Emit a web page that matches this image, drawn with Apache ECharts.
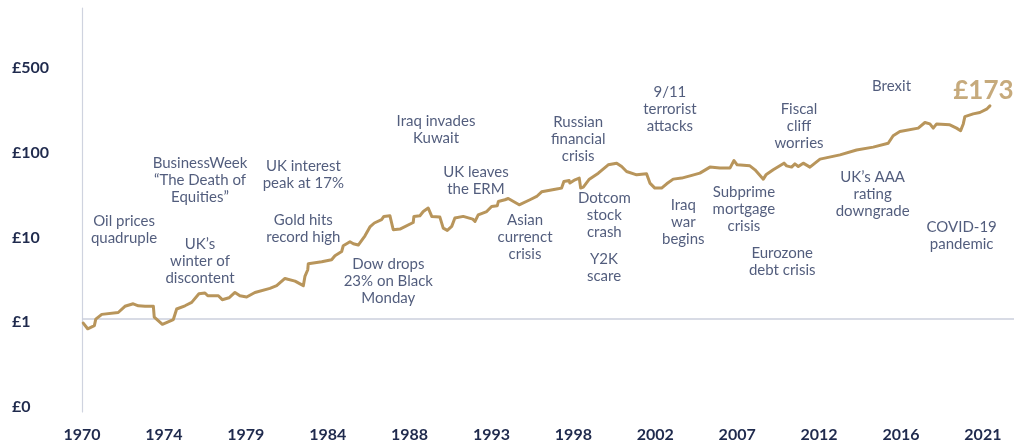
<!DOCTYPE html>
<html>
<head>
<meta charset="utf-8">
<script src="https://cdn.jsdelivr.net/npm/echarts@6/dist/echarts.min.js"></script>
<style>
  html, body { margin: 0; padding: 0; background: #ffffff; }
  #chart { width: 1029px; height: 448px; }
</style>
</head>
<body>
<div id="chart"></div>
<script>
// ---- Data ----
const xTickLabels = ['1970','1974','1979','1984','1988','1993','1998','2002','2007','2012','2016','2021'];
const yTickLabels = ['£0','£1','£10','£100','£500']; // shown at 0.1, 1, 10, 100, 1000 on the log axis

const years = [
  1970.07,1970.32,1970.70,1970.78,1971.12,1972.05,1972.43,1972.90,1973.19,1973.57,
  1974.04,1974.09,1974.55,1975.17,1975.36,1975.83,1976.21,1976.62,1976.96,1977.12,
  1977.72,1977.94,1978.32,1978.66,1978.94,1979.32,1979.79,1980.64,1981.02,1981.49,
  1982.06,1982.53,1982.62,1982.78,1982.81,1983.57,1984.13,1984.32,1984.70,1984.79,
  1985.17,1985.36,1985.64,1986.02,1986.30,1986.55,1986.96,1987.09,1987.43,1987.53,
  1987.62,1988.00,1988.75,1988.79,1989.13,1989.32,1989.60,1989.80,1990.26,1990.45,
  1990.68,1990.93,1991.11,1991.58,1992.12,1992.25,1992.43,1992.91,1993.19,1993.51,
  1993.57,1993.94,1994.13,1994.75,1995.36,1995.74,1996.02,1996.87,1997.15,1997.28,
  1997.58,1997.62,1997.91,1998.15,1998.23,1998.38,1998.72,1999.23,1999.79,2000.27,
  2000.55,2000.83,2001.40,2001.96,2002.15,2002.43,2002.81,2003.10,2003.47,2003.95,
  2004.42,2004.98,2005.55,2006.11,2006.68,2006.91,2007.09,2007.81,2008.10,2008.57,
  2008.72,2009.13,2009.74,2009.89,2010.17,2010.36,2010.55,2010.83,2011.21,2011.78,
  2012.91,2013.85,2014.79,2015.64,2015.92,2016.30,2017.34,2017.72,2018.00,2018.19,
  2018.38,2019.13,2019.51,2019.74,2019.89,2019.98,2020.45,2020.83,2021.21,2021.40
];
const values = [
  0.90,0.77,0.84,1.00,1.14,1.20,1.42,1.52,1.44,1.42,
  1.42,1.06,0.87,0.99,1.32,1.44,1.58,2.00,2.04,1.89,
  1.89,1.70,1.79,2.07,1.89,1.83,2.07,2.31,2.49,3.03,
  2.82,2.49,3.20,3.84,4.52,4.77,5.04,5.62,6.31,7.38,
  8.22,7.79,7.52,9.68,12.3,13.7,15.0,16.4,16.7,16.1,
  11.4,11.6,13.9,16.4,16.7,18.7,20.6,16.4,16.1,11.9,
  11.2,12.5,15.7,16.4,15.2,14.3,17.1,18.7,21.5,21.9,
  24.6,25.8,26.7,22.5,25.8,28.2,32.0,34.5,35.4,42.4,
  43.5,40.6,44.4,46.5,35.4,36.4,45.2,53.2,66.7,69.8,
  63.7,55.6,50.8,52.2,40.6,35.4,35.4,39.8,45.2,46.5,
  49.4,53.2,62.7,61.0,61.0,75.0,66.7,64.9,58.2,45.2,
  50.8,58.2,69.8,64.9,62.7,68.5,63.7,69.8,62.7,77.9,
  87.5,100,108,120,147,165,181,211,203,181,
  203,198,181,169,203,248,267,277,303,332
];

// Annotations: [year, value on the axis, text]
const annotationYears  = [1972.38,1976.68,1976.68,1982.53,1982.53,1987.34,1990.04,1992.30,1995.08,1998.09,1999.57,1999.55,2003.28,2004.04,2007.47,2009.64,2010.59,2014.76,2015.83,2019.80];
const annotationValues = [11.4,43.8,4.84,51.2,11.6,2.85,173,43.2,9.22,134,17.1,4.02,306,14.0,19.7,4.81,193,30.3,571,9.68];
const annotationTexts  = [
  'Oil prices\nquadruple',
  'BusinessWeek\n“The Death of\nEquities”',
  'UK’s\nwinter of\ndiscontent',
  'UK interest\npeak at 17%',
  'Gold hits\nrecord high',
  'Dow drops\n23% on Black\nMonday',
  'Iraq invades\nKuwait',
  'UK leaves\nthe ERM',
  'Asian\ncurrenct\ncrisis',
  'Russian\nfinancial\ncrisis',
  'Dotcom\nstock\ncrash',
  'Y2K\nscare',
  '9/11\nterrorist\nattacks',
  'Iraq\nwar\nbegins',
  'Subprime\nmortgage\ncrisis',
  'Eurozone\ndebt crisis',
  'Fiscal\ncliff\nworries',
  'UK’s AAA\nrating\ndowngrade',
  'Brexit',
  'COVID-19\npandemic'
];
const finalLabel = { year: 2021.03, value: 499, text: '£173' };

// ---- Build chart ----
const FIRST_YEAR = 1970, LAST_TICK_YEAR = 2021, TICK_COUNT = xTickLabels.length;
const toIdx = y => (y - FIRST_YEAR) * (TICK_COUNT - 1) / (LAST_TICK_YEAR - FIRST_YEAR);

const lineData = years.map((y, i) => [toIdx(y), values[i]]);
const annData = annotationTexts.map((t, i) => ({ value: [toIdx(annotationYears[i]), annotationValues[i]], name: t }));
annData.push({
  value: [toIdx(finalLabel.year), finalLabel.value],
  name: finalLabel.text,
  label: { fontSize: 26, fontWeight: 'bold', color: '#B8955B' }
});

const GOLD = '#B8955B';
const NAVY = '#1f2a4d';
const FONT = 'Lato, "Open Sans", sans-serif';

const chart = echarts.init(document.getElementById('chart'), null, { renderer: 'canvas' });
chart.setOption({
  animation: false,
  backgroundColor: '#ffffff',
  grid: { left: 82, right: 15, top: 8, bottom: 36, containLabel: false },
  xAxis: {
    type: 'value',
    min: 0,
    max: 11.38,
    interval: 1,
    axisLine: { show: false },
    axisTick: { show: false },
    splitLine: { show: false },
    axisLabel: {
      margin: 15,
      fontFamily: FONT,
      fontSize: 16,
      fontWeight: 'bold',
      color: NAVY,
      showMaxLabel: false,
      formatter: v => {
        const r = Math.round(v);
        return Math.abs(v - r) < 1e-6 && r >= 0 && r < xTickLabels.length ? xTickLabels[r] : '';
      }
    }
  },
  yAxis: {
    type: 'log',
    logBase: 10,
    min: 0.08,
    max: 4760,
    axisLine: { show: true, lineStyle: { color: '#cfd3df', width: 1.2 } },
    axisTick: { show: false },
    splitLine: { show: false },
    axisLabel: {
      align: 'left',
      verticalAlign: 'top',
      lineHeight: 6,
      margin: 70,
      fontFamily: FONT,
      fontSize: 16,
      fontWeight: 'bold',
      color: NAVY,
      formatter: v => {
        const l = Math.log10(v);
        const r = Math.round(l);
        return Math.abs(l - r) < 1e-6 && r >= -1 && r <= 3 ? yTickLabels[r + 1] : '';
      }
    }
  },
  series: [
    {
      type: 'line',
      data: lineData,
      showSymbol: false,
      symbol: 'none',
      z: 3,
      lineStyle: { color: GOLD, width: 3, join: 'round', cap: 'round' },
      markLine: {
        silent: true,
        symbol: 'none',
        animation: false,
        label: { show: false },
        lineStyle: { color: '#cbcfdc', width: 1.6, type: 'solid' },
        data: [{ yAxis: 1 }],
        z: 1
      }
    },
    {
      type: 'scatter',
      data: annData,
      symbolSize: 0,
      silent: true,
      z: 4,
      label: {
        show: true,
        position: 'inside',
        formatter: '{b}',
        fontFamily: FONT,
        fontSize: 15,
        lineHeight: 17,
        color: '#27345c',
        align: 'center',
        verticalAlign: 'middle'
      }
    }
  ]
});
</script>
</body>
</html>
